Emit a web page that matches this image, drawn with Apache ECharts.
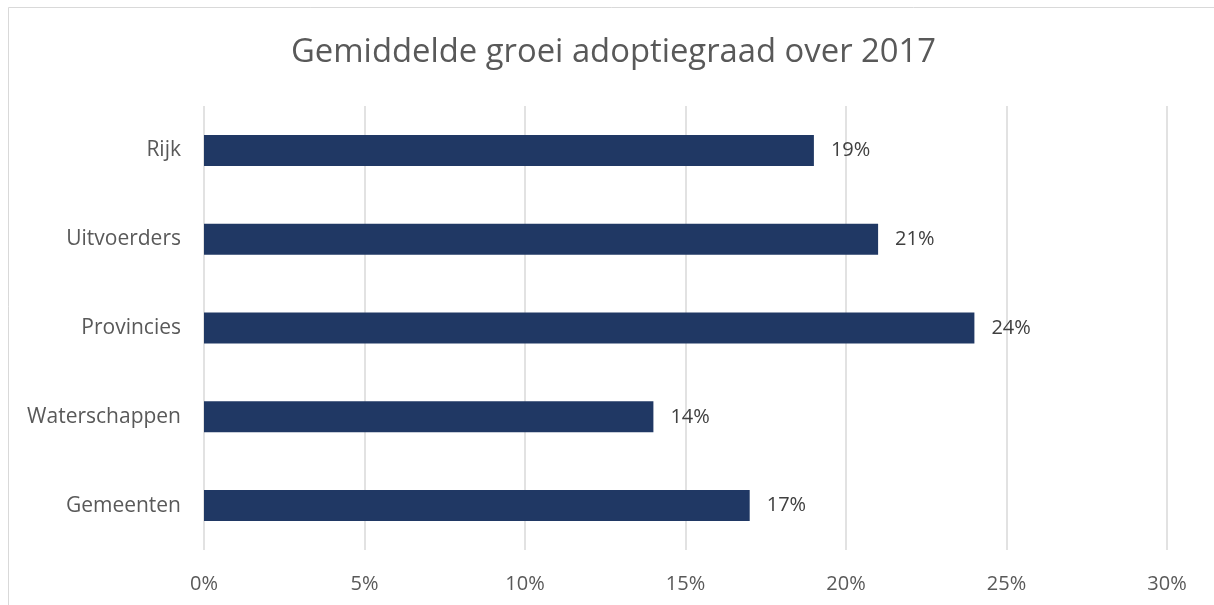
<!DOCTYPE html>
<html>
<head>
    <meta charset="UTF-8">
    <title>Gemiddelde groei adoptiegraad over 2017</title>
    <script src="https://cdn.jsdelivr.net/npm/echarts@6/dist/echarts.min.js"></script>
    <style>
        body { margin: 0; background: #fff; }
        #chart { width: 1214px; height: 605px; }
    </style>
</head>
<body>
    <div id="chart"></div>
    <script>
        var categories = ['Rijk', 'Uitvoerders', 'Provincies', 'Waterschappen', 'Gemeenten'];
        var values = [19, 21, 24, 14, 17];
        var tickValues = [0, 5, 10, 15, 20, 25, 30];

        var font = '"Open Sans", sans-serif';
        var chart = echarts.init(document.getElementById('chart'), null, {renderer: 'canvas'});

        chart.setOption({
            animation: false,
            backgroundColor: '#fff',
            graphic: [{
                type: 'rect',
                shape: {x: 8.5, y: 7.5, width: 1400, height: 800},
                style: {fill: 'none', stroke: '#d9d9d9', lineWidth: 1},
                silent: true
            }],
            title: {
                text: 'Gemiddelde groei adoptiegraad over 2017',
                left: 286,
                top: 31,
                textStyle: {fontFamily: font, fontSize: 32.8, fontWeight: 'normal', color: '#595959'}
            },
            grid: {left: 204, right: 47, top: 106, bottom: 55},
            xAxis: {
                type: 'value',
                min: tickValues[0],
                max: tickValues[tickValues.length - 1],
                interval: 5,
                axisLine: {show: false},
                axisTick: {show: false},
                splitLine: {lineStyle: {color: '#d9d9d9', width: 1.5}},
                axisLabel: {
                    margin: 24,
                    formatter: '{value}%',
                    fontFamily: font, fontSize: 20, color: '#595959'
                }
            },
            yAxis: {
                type: 'category',
                data: categories,
                inverse: true,
                axisLine: {show: false},
                axisTick: {show: false},
                axisLabel: {margin: 23, fontFamily: font, fontSize: 21, color: '#595959'}
            },
            series: [{
                type: 'bar',
                data: values,
                barWidth: 31,
                itemStyle: {color: '#203864'},
                label: {
                    show: true,
                    position: 'right',
                    distance: 17,
                    formatter: '{c}%',
                    fontFamily: font, fontSize: 20, color: '#404040'
                }
            }]
        });
    </script>
</body>
</html>
